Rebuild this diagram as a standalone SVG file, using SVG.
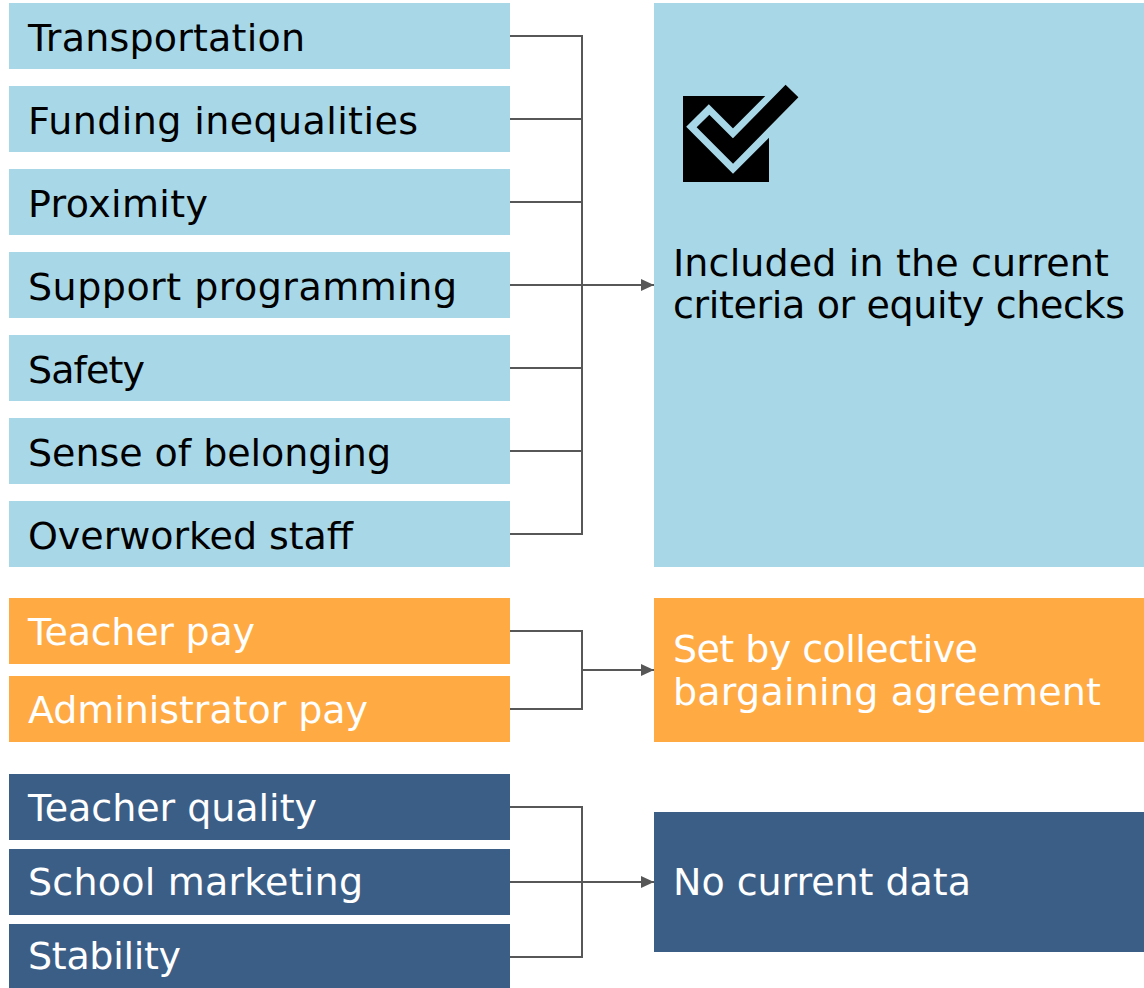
<svg xmlns="http://www.w3.org/2000/svg" width="1144" height="988" viewBox="0 0 1144 988">
<style>
.lb{fill:#A8D8E8}
.or{fill:#FFAA43}
.db{fill:#3B5E87}
text{font-family:"DejaVu Sans","Liberation Sans",sans-serif;font-size:38px}
.k{fill:#000}
.w{fill:#fff}
.c{fill:none;stroke:#575757;stroke-width:2}
</style>
<defs>
<marker id="ah" markerUnits="userSpaceOnUse" markerWidth="14" markerHeight="12" refX="13" refY="6" orient="auto">
<path d="M0,0 L13,6 L0,12 Z" fill="#575757"/>
</marker>
</defs>
<rect width="1144" height="988" fill="#fff"/>
<g id="n1"><rect class="lb" x="9" y="3" width="501" height="66"/><text class="k" x="28" y="51" textLength="277">Transportation</text></g>
<g id="n2"><rect class="lb" x="9" y="86" width="501" height="66"/><text class="k" x="28" y="134" textLength="390">Funding inequalities</text></g>
<g id="n3"><rect class="lb" x="9" y="169" width="501" height="66"/><text class="k" x="28" y="217" textLength="180">Proximity</text></g>
<g id="n4"><rect class="lb" x="9" y="252" width="501" height="66"/><text class="k" x="28" y="300" textLength="429">Support programming</text></g>
<g id="n5"><rect class="lb" x="9" y="335" width="501" height="66"/><text class="k" x="28" y="383" textLength="117">Safety</text></g>
<g id="n6"><rect class="lb" x="9" y="418" width="501" height="66"/><text class="k" x="28" y="466" textLength="363">Sense of belonging</text></g>
<g id="n7"><rect class="lb" x="9" y="501" width="501" height="66"/><text class="k" x="28" y="549" textLength="325">Overworked staff</text></g>
<g id="r1">
<rect class="lb" x="654" y="3" width="490" height="564"/>
<rect x="683" y="96" width="86" height="86" fill="#000"/>
<polyline points="697.5,115.5 733,151 797,87" fill="none" stroke="#A8D8E8" stroke-width="32" stroke-linejoin="miter"/>
<polyline points="703,121 733,151 792,91" fill="none" stroke="#000" stroke-width="18" stroke-linejoin="miter"/>
<text class="k" x="673" y="276" textLength="436">Included in the current</text>
<text class="k" x="673" y="318" textLength="452">criteria or equity checks</text>
</g>
<g id="n8"><rect class="or" x="9" y="598" width="501" height="66"/><text class="w" x="28" y="645" textLength="227">Teacher pay</text></g>
<g id="n9"><rect class="or" x="9" y="676" width="501" height="66"/><text class="w" x="28" y="723" textLength="340">Administrator pay</text></g>
<g id="r2">
<rect class="or" x="654" y="598" width="490" height="144"/>
<text class="w" x="673" y="662" textLength="305">Set by collective</text>
<text class="w" x="673" y="705" textLength="428">bargaining agreement</text>
</g>
<g id="n10"><rect class="db" x="9" y="774" width="501" height="66"/><text class="w" x="28" y="821" textLength="289">Teacher quality</text></g>
<g id="n11"><rect class="db" x="9" y="849" width="501" height="66"/><text class="w" x="28" y="895" textLength="335">School marketing</text></g>
<g id="n12"><rect class="db" x="9" y="924" width="501" height="64"/><text class="w" x="28" y="969" textLength="153">Stability</text></g>
<g id="r3">
<rect class="db" x="654" y="812" width="490" height="140"/>
<text class="w" x="673" y="895" textLength="298">No current data</text>
</g>
<g id="connectors">
<path class="c" d="M510,36 H582 M510,119 H582 M510,202 H582 M510,285 H582 M510,368 H582 M510,451 H582 M510,534 H582 M582,35 V535"/>
<path class="c" d="M582,285 H654" marker-end="url(#ah)"/>
<path class="c" d="M510,631 H582 M510,709 H582 M582,630 V710"/>
<path class="c" d="M582,670 H654" marker-end="url(#ah)"/>
<path class="c" d="M510,807 H582 M510,882 H582 M510,957 H582 M582,806 V958"/>
<path class="c" d="M582,882 H654" marker-end="url(#ah)"/>
</g>
</svg>
